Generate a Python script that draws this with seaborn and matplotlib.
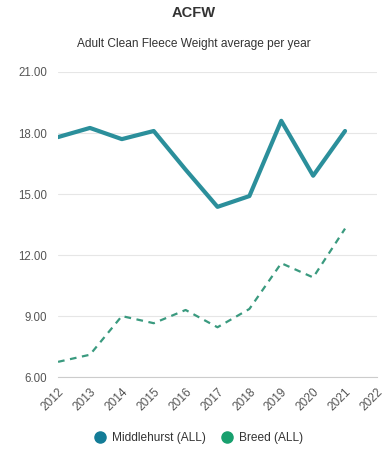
import pandas as pd
import matplotlib
matplotlib.use("Agg")
import matplotlib.pyplot as plt
import seaborn as sns
from matplotlib.lines import Line2D
from matplotlib.ticker import FormatStrFormatter

years = [2012, 2013, 2014, 2015, 2016, 2017, 2018, 2019, 2020, 2021]
middlehurst = [17.8, 18.25, 17.7, 18.1, 16.2, 14.37, 14.9, 18.6, 15.9, 18.1]
breed = [6.75, 7.1, 9.0, 8.65, 9.3, 8.45, 9.35, 11.6, 10.9, 13.3]
x_ticks = list(range(2012, 2023))
y_ticks = [6, 9, 12, 15, 18, 21]

df = pd.DataFrame({"year": years, "Middlehurst (ALL)": middlehurst, "Breed (ALL)": breed})

sns.set_style("white")
plt.rcParams['font.family'] = ['Liberation Sans', 'DejaVu Sans']

fig = plt.figure(figsize=(3.87, 4.5), dpi=100)
ax = fig.add_axes([0.150, 0.162, 0.824, 0.678])

sns.lineplot(data=df, x="year", y="Middlehurst (ALL)", color="#2b8f9b", linewidth=3, ax=ax)
sns.lineplot(data=df, x="year", y="Breed (ALL)", color="#3a9a7f", linewidth=1.6, ax=ax,
             linestyle=(0, (3, 2.5)))

ax.set_xlim(2012, 2022)
ax.set_ylim(6, 21)
ax.set_xticks(x_ticks)
ax.set_yticks(y_ticks)
ax.yaxis.set_major_formatter(FormatStrFormatter('%.2f'))
ax.set_xlabel("")
ax.set_ylabel("")
ax.grid(axis='y', color='#e6e6e6', linewidth=0.8)
ax.set_axisbelow(True)
for s in ['top', 'right', 'left']:
    ax.spines[s].set_visible(False)
ax.spines['bottom'].set_color('#cccccc')
ax.spines['bottom'].set_linewidth(0.8)
ax.tick_params(axis='x', colors='#cccccc', labelcolor='#555555', labelsize=8.6,
               length=5, width=0.8, labelrotation=45, pad=1)
ax.tick_params(axis='y', length=0, labelcolor='#555555', labelsize=8.3, pad=8)
for lbl in ax.get_xticklabels():
    lbl.set_ha('right')
    lbl.set_rotation_mode('anchor')

fig.text(0.5, 0.972, "ACFW", ha='center', va='center', fontsize=10.5,
         fontweight='bold', color='#333333')
fig.text(0.5, 0.902, "Adult Clean Fleece Weight average per year", ha='center',
         va='center', fontsize=8.6, color='#333333')

handles = [
    Line2D([], [], marker='o', linestyle='none', markersize=8, color='#137c97'),
    Line2D([], [], marker='o', linestyle='none', markersize=8, color='#18a06e'),
]
fig.legend(handles, ["Middlehurst (ALL)", "Breed (ALL)"], loc='center',
           bbox_to_anchor=(0.505, 0.027), ncol=2, frameon=False, fontsize=8.6,
           handletextpad=0.0, columnspacing=0.8, labelcolor='#333333')

fig.savefig("out.png", dpi=100)
